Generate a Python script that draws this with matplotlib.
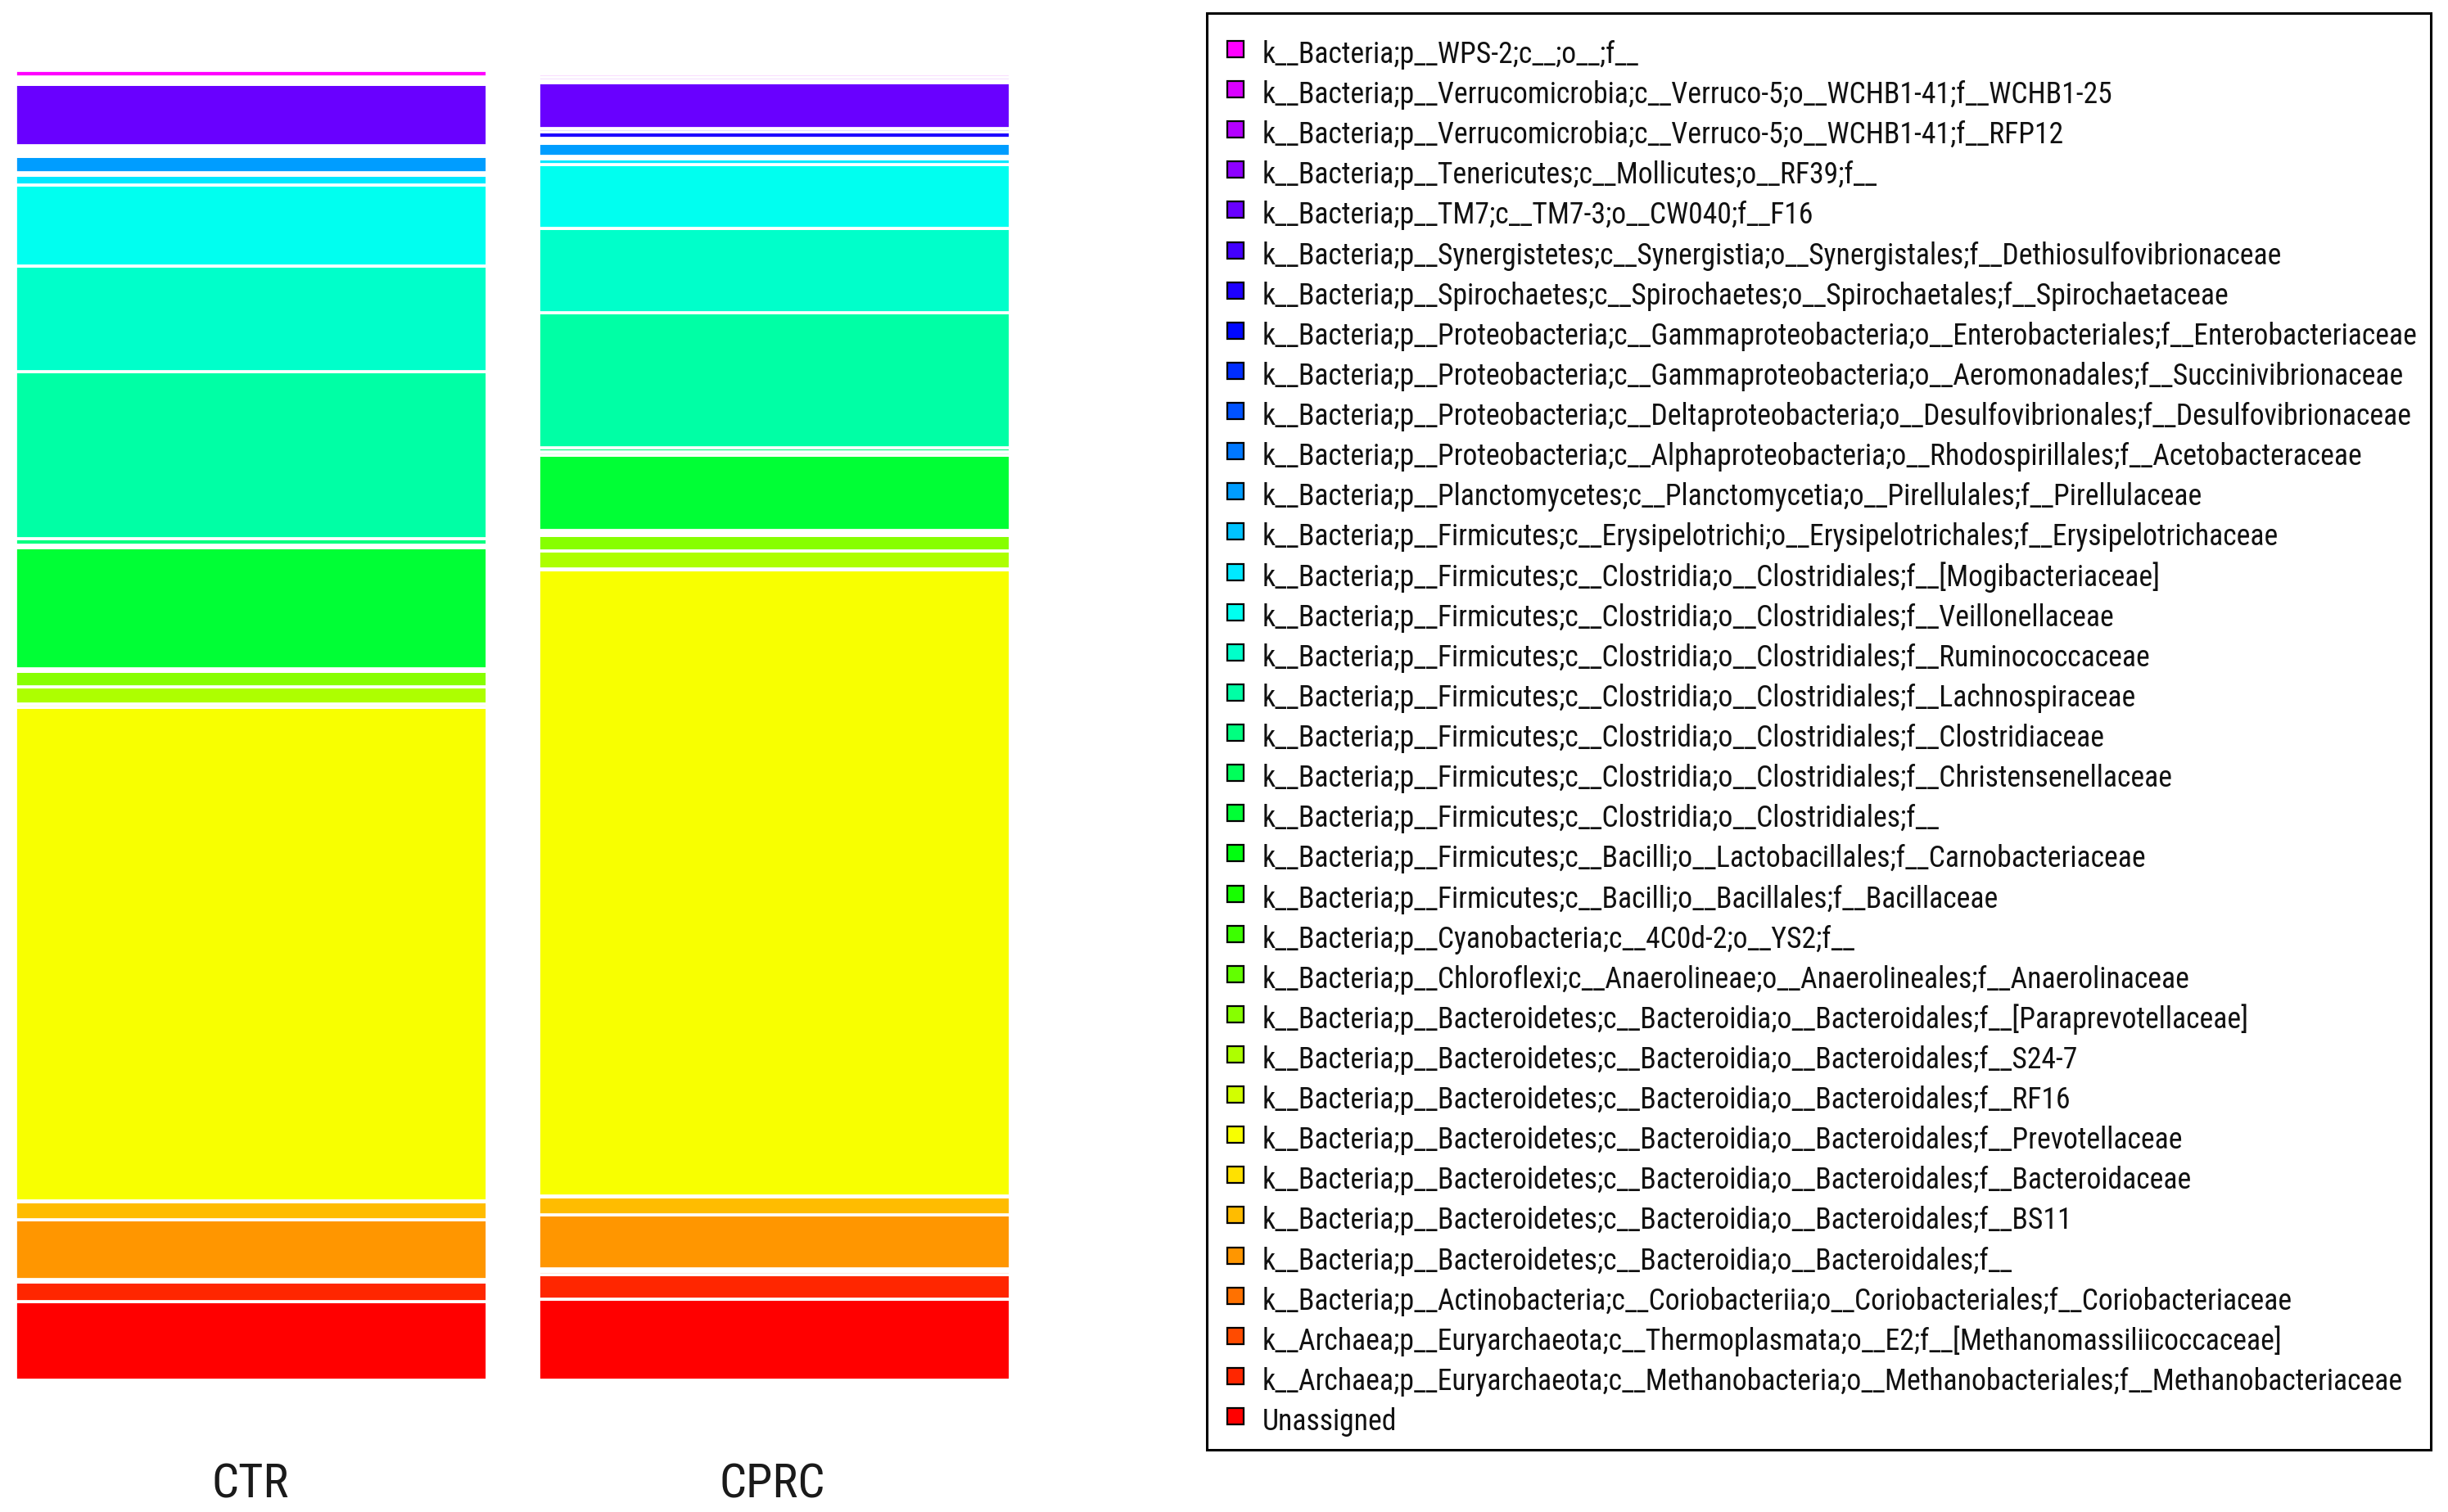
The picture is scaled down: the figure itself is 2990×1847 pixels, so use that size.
import colorsys
import matplotlib
matplotlib.use("Agg")
import matplotlib.pyplot as plt
from matplotlib import font_manager as fm
from matplotlib.font_manager import FontProperties
from matplotlib.patches import Rectangle

# ---------------- data (bottom of stack -> top of stack) ----------------
samples = ["CTR", "CPRC"]

taxa = [
    "Unassigned",
    "k__Archaea;p__Euryarchaeota;c__Methanobacteria;o__Methanobacteriales;f__Methanobacteriaceae",
    "k__Archaea;p__Euryarchaeota;c__Thermoplasmata;o__E2;f__[Methanomassiliicoccaceae]",
    "k__Bacteria;p__Actinobacteria;c__Coriobacteriia;o__Coriobacteriales;f__Coriobacteriaceae",
    "k__Bacteria;p__Bacteroidetes;c__Bacteroidia;o__Bacteroidales;f__",
    "k__Bacteria;p__Bacteroidetes;c__Bacteroidia;o__Bacteroidales;f__BS11",
    "k__Bacteria;p__Bacteroidetes;c__Bacteroidia;o__Bacteroidales;f__Bacteroidaceae",
    "k__Bacteria;p__Bacteroidetes;c__Bacteroidia;o__Bacteroidales;f__Prevotellaceae",
    "k__Bacteria;p__Bacteroidetes;c__Bacteroidia;o__Bacteroidales;f__RF16",
    "k__Bacteria;p__Bacteroidetes;c__Bacteroidia;o__Bacteroidales;f__S24-7",
    "k__Bacteria;p__Bacteroidetes;c__Bacteroidia;o__Bacteroidales;f__[Paraprevotellaceae]",
    "k__Bacteria;p__Chloroflexi;c__Anaerolineae;o__Anaerolineales;f__Anaerolinaceae",
    "k__Bacteria;p__Cyanobacteria;c__4C0d-2;o__YS2;f__",
    "k__Bacteria;p__Firmicutes;c__Bacilli;o__Bacillales;f__Bacillaceae",
    "k__Bacteria;p__Firmicutes;c__Bacilli;o__Lactobacillales;f__Carnobacteriaceae",
    "k__Bacteria;p__Firmicutes;c__Clostridia;o__Clostridiales;f__",
    "k__Bacteria;p__Firmicutes;c__Clostridia;o__Clostridiales;f__Christensenellaceae",
    "k__Bacteria;p__Firmicutes;c__Clostridia;o__Clostridiales;f__Clostridiaceae",
    "k__Bacteria;p__Firmicutes;c__Clostridia;o__Clostridiales;f__Lachnospiraceae",
    "k__Bacteria;p__Firmicutes;c__Clostridia;o__Clostridiales;f__Ruminococcaceae",
    "k__Bacteria;p__Firmicutes;c__Clostridia;o__Clostridiales;f__Veillonellaceae",
    "k__Bacteria;p__Firmicutes;c__Clostridia;o__Clostridiales;f__[Mogibacteriaceae]",
    "k__Bacteria;p__Firmicutes;c__Erysipelotrichi;o__Erysipelotrichales;f__Erysipelotrichaceae",
    "k__Bacteria;p__Planctomycetes;c__Planctomycetia;o__Pirellulales;f__Pirellulaceae",
    "k__Bacteria;p__Proteobacteria;c__Alphaproteobacteria;o__Rhodospirillales;f__Acetobacteraceae",
    "k__Bacteria;p__Proteobacteria;c__Deltaproteobacteria;o__Desulfovibrionales;f__Desulfovibrionaceae",
    "k__Bacteria;p__Proteobacteria;c__Gammaproteobacteria;o__Aeromonadales;f__Succinivibrionaceae",
    "k__Bacteria;p__Proteobacteria;c__Gammaproteobacteria;o__Enterobacteriales;f__Enterobacteriaceae",
    "k__Bacteria;p__Spirochaetes;c__Spirochaetes;o__Spirochaetales;f__Spirochaetaceae",
    "k__Bacteria;p__Synergistetes;c__Synergistia;o__Synergistales;f__Dethiosulfovibrionaceae",
    "k__Bacteria;p__TM7;c__TM7-3;o__CW040;f__F16",
    "k__Bacteria;p__Tenericutes;c__Mollicutes;o__RF39;f__",
    "k__Bacteria;p__Verrucomicrobia;c__Verruco-5;o__WCHB1-41;f__RFP12",
    "k__Bacteria;p__Verrucomicrobia;c__Verruco-5;o__WCHB1-41;f__WCHB1-25",
    "k__Bacteria;p__WPS-2;c__;o__;f__",
]

ctr = [0.0600, 0.0148, 0.0010, 0.0010, 0.0459, 0.0138, 0.0005, 0.3770, 0.0025,
       0.0134, 0.0116, 0.0005, 0.0005, 0.0005, 0.0005, 0.0922, 0.0022, 0.0047,
       0.1280, 0.0805, 0.0620, 0.0073, 0.0019, 0.0123, 0.0014, 0.0014, 0.0014,
       0.0014, 0.0014, 0.0014, 0.0466, 0.0020, 0.0020, 0.0020, 0.0047]

cprc = [0.0619, 0.0189, 0.0022, 0.0022, 0.0413, 0.0134, 0.0005, 0.4785, 0.0005,
        0.0140, 0.0119, 0.0010, 0.0010, 0.0010, 0.0010, 0.0575, 0.0025, 0.0028,
        0.1034, 0.0640, 0.0490, 0.0044, 0.0018, 0.0098, 0.0010, 0.0010, 0.0010,
        0.0010, 0.0052, 0.0023, 0.0348, 0.0023, 0.0023, 0.0023, 0.0023]

# ---------------- style ----------------
W, H, DPI = 2990, 1847, 200
n = len(taxa)
colors = [colorsys.hsv_to_rgb(i / (n - 1) * 5 / 6, 1, 1) for i in range(n)]


def pick_narrow():
    names = {f.name for f in fm.fontManager.ttflist}
    for cand in ["Liberation Sans Narrow", "Arial Narrow", "Roboto Condensed",
                 "DejaVu Sans Condensed", "Open Sans Condensed", "Noto Sans Condensed"]:
        if cand in names:
            return FontProperties(family=cand)
    conds = [f for f in fm.fontManager.ttflist
             if str(f.stretch) in ("condensed", "semi-condensed")
             and f.style == "normal" and f.weight in (400, "normal", "regular", "book")]
    pref = ["DejaVu Sans", "Noto Sans", "Open Sans", "Roboto", "Liberation Sans"]
    conds.sort(key=lambda f: pref.index(f.name) if f.name in pref else 99)
    if conds:
        return FontProperties(fname=conds[0].fname)
    return FontProperties(family="Liberation Sans")


fp = pick_narrow()

fig = plt.figure(figsize=(W / DPI, H / DPI), dpi=DPI, facecolor="white")

# bar axes (pixel geometry of the reference)
bar_left, bar_right = 19, 1234
y_top, y_bot = 86.7, 1686
ax = fig.add_axes([bar_left / W, (H - y_bot) / H, (bar_right - bar_left) / W, (y_bot - y_top) / H])
bar_w = 576 / 639
xs = [0, 1]
ax.set_xlim(-bar_w / 2, 1 + bar_w / 2)
ax.set_ylim(0, 1)
ax.axis("off")

bottoms = [0.0, 0.0]
for i in range(n):
    vals = [ctr[i], cprc[i]]
    ax.bar(xs, vals, width=bar_w, bottom=bottoms, color=colors[i],
           edgecolor="white", linewidth=1.35, clip_on=False)
    bottoms = [b + v for b, v in zip(bottoms, vals)]

# overlay axes in pixel coordinates for labels and legend
ov = fig.add_axes([0, 0, 1, 1])
ov.set_xlim(0, W)
ov.set_ylim(H, 0)
ov.axis("off")

label_fp = fp.copy()
label_fp.set_size(21)
for x, s in zip([306, 943], samples):
    ov.text(x, 1830, s, ha="center", va="baseline", fontproperties=label_fp, color="#1a1a1a")

# legend (top entry = top of stack)
leg_l, leg_r, leg_t, leg_b = 1474, 2969, 16, 1771
ov.add_patch(Rectangle((leg_l, leg_t), leg_r - leg_l, leg_b - leg_t, fill=False,
                       edgecolor="black", linewidth=1.1))
first_c, pitch, msize = 60, 49.12, 20
text_x = 1542
leg_fp = fp.copy()
leg_fp.set_size(12)
texts = []
for k, i in enumerate(range(n - 1, -1, -1)):
    yc = first_c + k * pitch
    ov.add_patch(Rectangle((1499, yc - msize / 2), msize, msize, facecolor=colors[i],
                           edgecolor="black", linewidth=0.8))
    texts.append(ov.text(text_x, yc + 17, taxa[i], ha="left", va="baseline",
                         fontproperties=leg_fp, color="#111111"))

# fit legend font so the longest label spans the reference width
r = fig.canvas.get_renderer()
maxw = max(t.get_window_extent(r).width for t in texts)
target = 1414
new_size = 12 * target / maxw
for t in texts:
    t.set_fontsize(new_size)

fig.savefig("out.png", dpi=DPI, facecolor="white")
